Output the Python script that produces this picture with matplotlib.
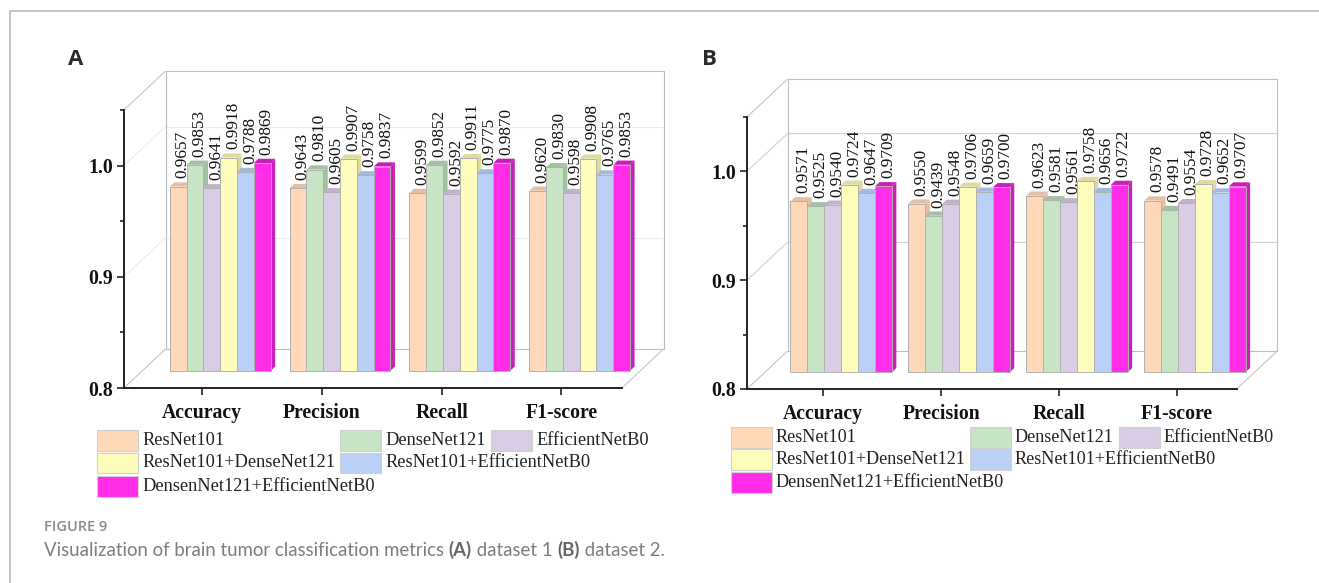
import matplotlib
matplotlib.use('Agg')
import matplotlib.pyplot as plt
from matplotlib.lines import Line2D
from matplotlib.patches import Rectangle

W, H = 1319, 583

metrics = ['Accuracy', 'Precision', 'Recall', 'F1-score']
models = ['ResNet101', 'DenseNet121', 'EfficientNetB0',
          'ResNet101+DenseNet121', 'ResNet101+EfficientNetB0',
          'DensenNet121+EfficientNetB0']

# one row per metric, one column per model
dataset1 = [[0.9657, 0.9853, 0.9641, 0.9918, 0.9788, 0.9869],
            [0.9643, 0.9810, 0.9605, 0.9907, 0.9758, 0.9837],
            [0.9599, 0.9852, 0.9592, 0.9911, 0.9775, 0.9870],
            [0.9620, 0.9830, 0.9598, 0.9908, 0.9765, 0.9853]]
dataset2 = [[0.9571, 0.9525, 0.9540, 0.9724, 0.9647, 0.9709],
            [0.9550, 0.9439, 0.9548, 0.9706, 0.9659, 0.9700],
            [0.9623, 0.9581, 0.9561, 0.9758, 0.9656, 0.9722],
            [0.9578, 0.9491, 0.9554, 0.9728, 0.9652, 0.9707]]

y_major = [0.8, 0.9, 1.0]
y_minor = [0.85, 0.95, 1.05]

front_cols = ['#FFD8B8', '#C7E5C5', '#D9CCE5', '#FFFDBB', '#BBD0F6', '#FF2CE8']
shade_cols = ['#E6BFA2', '#A3C0A3', '#C0B1CC', '#DDDBA0', '#A2B8DC', '#C81FB6']

SERIF = 'Liberation Serif'


def px(x, y):
    return x / W, 1 - y / H


def draw_panel(fig, values, left, right, top, bottom, first_tick, step,
               depth_x, depth_y, bar_depth, bar_w, wall_col, grid_col):
    ax = fig.add_axes([left / W, 1 - bottom / H, (right - left) / W, (bottom - top) / H])
    ax.set_facecolor('none')
    ax.set_ylim(0.8, 1.05)
    ax.set_xlim((left - first_tick) / step, (right - first_tick) / step)
    yscale = 0.25 / (bottom - top)
    dx = depth_x / step
    dy = depth_y * yscale

    def proj(x, y, z):
        return x + z * dx, y + z * dy

    xmin, xmax = ax.get_xlim()
    kw = dict(clip_on=False, zorder=1, solid_capstyle='butt')

    # back wall, floor and the left side wall
    for v in y_major[1:]:
        a, b = proj(xmin, v, 1), proj(xmax, v, 1)
        ax.plot([a[0], b[0]], [a[1], b[1]], color=grid_col, lw=0.8, **kw)
        c = proj(xmin, v, 0)
        ax.plot([c[0], a[0]], [c[1], a[1]], color=grid_col, lw=0.8, **kw)
    tl, tr = proj(xmin, 1.05, 1), proj(xmax, 1.05, 1)
    bl, br = proj(xmin, 0.8, 1), proj(xmax, 0.8, 1)
    ax.plot([bl[0], tl[0], tr[0], br[0], bl[0]], [bl[1], tl[1], tr[1], br[1], bl[1]],
            color=wall_col, lw=0.8, **kw)
    ax.plot([xmin, tl[0]], [1.05, tl[1]], color=wall_col, lw=0.7, **kw)
    ax.plot([xmin, bl[0]], [0.8, bl[1]], color=wall_col, lw=0.7, **kw)
    ax.plot([xmax, br[0]], [0.8, br[1]], color=wall_col, lw=0.7, **kw)

    # bars sit in the middle of the floor, drawn left to right so that
    # each front covers the side face of its neighbour
    zf, zb = 0.44, 0.44 + bar_depth / depth_x
    w = bar_w / step
    n = len(models)
    zo = 3
    for i, row in enumerate(values):
        for j, v in enumerate(row):
            x0 = i + (j - n / 2) * w
            x1 = x0 + w
            fx0, fy0 = proj(x0, 0.8, zf)
            fx1, fy1 = proj(x1, v, zf)
            bx0, by0 = proj(x0, 0.8, zb)
            bx1, by1 = proj(x1, v, zb)
            ax.fill([fx1, bx1, bx1, fx1], [fy0, by0, by1, fy1], color=shade_cols[j],
                    lw=0, clip_on=False, zorder=zo)
            ax.fill([fx0, fx1, bx1, bx0], [fy1, fy1, by1, by1], color=shade_cols[j],
                    lw=0, clip_on=False, zorder=zo)
            ax.bar(fx0, fy1 - fy0, width=fx1 - fx0, bottom=fy0, align='edge',
                   color=front_cols[j], edgecolor='#B0B0B0', linewidth=0.7,
                   clip_on=False, zorder=zo + 1)
            ax.annotate(f'{v:.4f}', (bx0 + (fx1 - fx0) / 2, by1), xytext=(0, 2.8),
                        textcoords='offset points', rotation=90, ha='center', va='bottom',
                        family=SERIF, fontsize=12.4, color='#111111',
                        annotation_clip=False, zorder=50)
            zo += 2

    ax.spines[['top', 'right']].set_visible(False)
    ax.spines[['left', 'bottom']].set_linewidth(1.4)
    ax.spines['left'].set_color('#222222')
    ax.spines['bottom'].set_color('#222222')
    ax.set_yticks(y_major)
    ax.set_yticks(y_minor, minor=True)
    ax.set_yticklabels([f'{v:.1f}' for v in y_major], family=SERIF, fontweight='bold',
                       fontsize=14.2, color='#111111')
    ax.set_xticks(range(len(metrics)))
    ax.set_xticklabels(metrics, family=SERIF, fontweight='bold', fontsize=14.2, color='#111111')
    ax.tick_params(axis='y', which='major', length=5, width=1.2, pad=3, color='#222222')
    ax.tick_params(axis='y', which='minor', length=3, width=1.2, color='#222222')
    ax.tick_params(axis='x', length=5, width=1.2, pad=6, color='#222222')
    return ax


def draw_legend(fig, col_x, row_y, swatch_w, swatch_h, fontsize):
    slots = [(0, 0), (1, 0), (2, 0), (0, 1), (1, 1), (0, 2)]
    for j, (c, r) in enumerate(slots):
        x, y = col_x[c], row_y[r]
        fig.add_artist(Rectangle((x / W, 1 - (y + swatch_h) / H), swatch_w / W, swatch_h / H,
                                 transform=fig.transFigure, facecolor=front_cols[j],
                                 edgecolor='#D0D0D0', linewidth=0.8))
        tx, ty = px(x + swatch_w + 4.5, y + swatch_h / 2)
        fig.text(tx, ty, models[j], family=SERIF, fontsize=fontsize, color='#222222',
                 ha='left', va='center')


fig = plt.figure(figsize=(W / 100, H / 100), dpi=100, facecolor='white')

# page frame round the figure
fig.add_artist(Line2D([9.5 / W, 9.5 / W, 1], [0, 1 - 11 / H, 1 - 11 / H],
                      transform=fig.transFigure, color='#B5B5B5', lw=1.1))

draw_panel(fig, dataset1, 124, 622, 110, 388, 202, 119.8, 41.5, 39, 4.5, 16.8, '#BEBEBE', '#ECECEC')
draw_panel(fig, dataset2, 747, 1236.7, 117, 389, 823.3, 117.9, 40.6, 38, 4.5, 16.9, '#BEBEBE', '#D2D2D2')

draw_legend(fig, [97, 340, 491], [430, 452.5, 476], 41, 20.5, 13.2)
draw_legend(fig, [731, 970, 1119], [427, 449, 472], 40.5, 20.5, 13.1)

for label, x in [('A', 68), ('B', 702)]:
    tx, ty = px(x, 59.5)
    fig.text(tx, ty, label, family='Open Sans', fontweight='bold', fontsize=16,
             color='#2A2A2A', ha='left', va='center')

tx, ty = px(44, 527)
fig.text(tx, ty, 'FIGURE 9', family='Open Sans', fontweight='semibold', fontsize=10.5,
         color='#8A8A8A', ha='left', va='center')

# caption with the panel letters in a heavier weight
caption = [('Visualization of brain tumor classification metrics ', 'normal'),
           ('(A)', 'bold'), (' dataset 1 ', 'normal'), ('(B)', 'bold'), (' dataset 2.', 'normal')]
tx, ty = px(44, 550)
renderer = fig.canvas.get_renderer()
for part, weight in caption:
    t = fig.text(tx, ty, part.replace(' ', '\u00a0'), family='Lato', fontweight=weight,
                 fontsize=13.45, color='#7D7D7D' if weight == 'normal' else '#666666',
                 ha='left', va='center')
    tx = t.get_window_extent(renderer).x1 / W

fig.savefig('out.png', dpi=100)
